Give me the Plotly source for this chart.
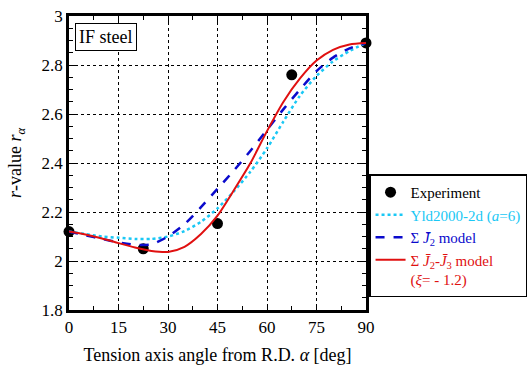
import plotly.graph_objects as go

exp_angle = [0, 22.5, 45, 67.5, 90]
exp_r = [2.12, 2.05, 2.153, 2.76, 2.89]

ang = [0, 5, 10, 15, 20, 25, 30, 35, 40, 45, 50, 55, 60, 65, 70, 75, 80, 85, 90]
yld = [2.12, 2.11, 2.10, 2.095, 2.09, 2.09, 2.10, 2.122, 2.16, 2.215, 2.285, 2.365, 2.46,
       2.57, 2.675, 2.755, 2.815, 2.857, 2.89]
j2 = [2.12, 2.105, 2.09, 2.076, 2.066, 2.068, 2.10, 2.15, 2.22, 2.295, 2.37, 2.45, 2.535,
      2.62, 2.70, 2.775, 2.83, 2.868, 2.89]
j2j3 = [2.12, 2.108, 2.092, 2.073, 2.055, 2.041, 2.037, 2.058, 2.11, 2.185, 2.29, 2.40, 2.53,
        2.65, 2.745, 2.818, 2.862, 2.884, 2.89]

FONT = "'Liberation Serif', 'Times New Roman', 'DejaVu Serif', serif"
CYAN = "#1AC8F5"
BLUE = "#0A0ACC"
RED = "#E01010"

fig = go.Figure()
fig.add_trace(go.Scatter(x=exp_angle, y=exp_r, mode="markers",
                         marker=dict(color="black", size=11),
                         name="Experiment", cliponaxis=False))
fig.add_trace(go.Scatter(x=ang, y=yld, mode="lines",
                         line=dict(color=CYAN, width=2.5, dash="dot", shape="spline", smoothing=0.7),
                         name=f"<span style='color:{CYAN}'>Yld2000-2d (<i>a</i>=6)</span>"))
fig.add_trace(go.Scatter(x=ang, y=j2, mode="lines",
                         line=dict(color=BLUE, width=2.5, dash="dash", shape="spline", smoothing=0.7),
                         name=f"<span style='color:{BLUE}'>Σ <i>J̄</i><sub>2</sub> model</span>"))
fig.add_trace(go.Scatter(x=ang, y=j2j3, mode="lines",
                         line=dict(color=RED, width=2, shape="spline", smoothing=0.7),
                         name=f"<span style='color:{RED}'>Σ <i>J̄</i><sub>2</sub>-<i>J̄</i><sub>3</sub> model<br>(<i>ξ</i>= - 1.2)</span>"))

axis_common = dict(showline=True, linecolor="black", linewidth=2.5, mirror="allticks",
                   ticks="inside", ticklen=6, tickcolor="black", tickwidth=1,
                   showgrid=True, gridcolor="black", griddash="dot", gridwidth=1,
                   zeroline=False, automargin=False,
                   tickfont=dict(family=FONT, size=17, color="black"))

fig.update_xaxes(range=[0, 90], tickvals=[0, 15, 30, 45, 60, 75, 90],
                 minor=dict(dtick=7.5, ticks="inside", ticklen=4, tickcolor="black", showgrid=False),
                 title=dict(text="Tension axis angle from R.D. <i>α</i> [deg]", font=dict(family=FONT, size=18, color="black"), standoff=18),
                 **axis_common)
fig.update_yaxes(range=[1.8, 3.0], tickvals=[1.8, 2.0, 2.2, 2.4, 2.6, 2.8, 3.0],
                 ticktext=["1.8", "2", "2.2", "2.4", "2.6", "2.8", "3"],
                 minor=dict(dtick=0.05, ticks="inside", ticklen=4, tickcolor="black", showgrid=False),
                 title=dict(text="<i>r</i>-value <i>r</i><sub><i>α</i></sub>", font=dict(family=FONT, size=18, color="black"), standoff=16),
                 **axis_common)

fig.add_annotation(xref="x domain", yref="y domain", x=0.02, y=0.975, xanchor="left", yanchor="top",
                   text="IF steel", showarrow=False, font=dict(family=FONT, size=18, color="black"),
                   bordercolor="black", borderwidth=1, borderpad=3, bgcolor="white")

fig.update_layout(width=531, height=365, margin=dict(l=69, r=165, t=16, b=55),
                  plot_bgcolor="white", paper_bgcolor="white",
                  font=dict(family=FONT, size=15, color="black"),
                  legend=dict(xref="container", yref="container", x=0.695, y=0.522,
                              xanchor="left", yanchor="top",
                              bordercolor="black", borderwidth=1.5, bgcolor="white",
                              font=dict(family=FONT, size=15, color="black"),
                              tracegroupgap=1, itemwidth=30, valign="top"))

fig.write_html("out.html")
